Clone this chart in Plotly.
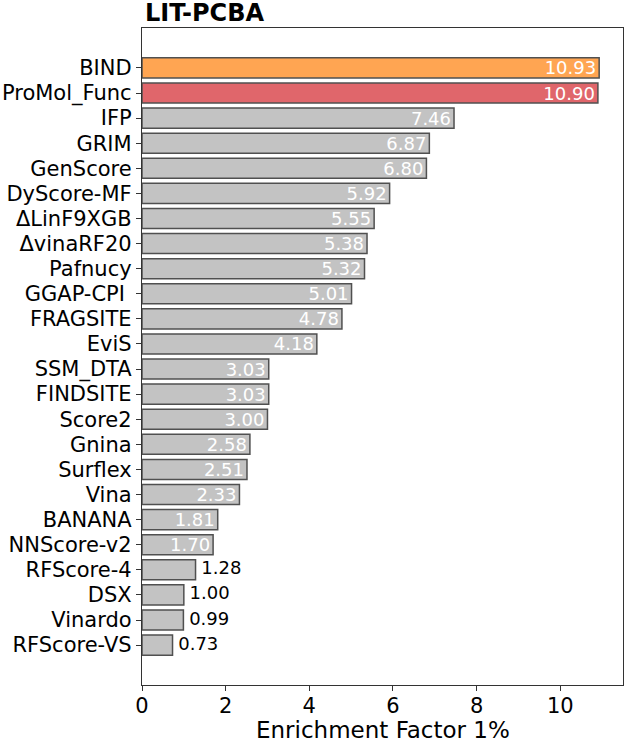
import plotly.graph_objects as go

methods = ["BIND", "ProMol_Func", "IFP", "GRIM", "GenScore", "DyScore-MF", "ΔLinF9XGB",
           "ΔvinaRF20", "Pafnucy", "GGAP-CPI ", "FRAGSITE", "EviS", "SSM_DTA", "FINDSITE",
           "Score2", "Gnina", "Surflex", "Vina", "BANANA", "NNScore-v2", "RFScore-4", "DSX",
           "Vinardo", "RFScore-VS"]
values = [10.93, 10.90, 7.46, 6.87, 6.80, 5.92, 5.55, 5.38, 5.32, 5.01, 4.78, 4.18, 3.03,
          3.03, 3.00, 2.58, 2.51, 2.33, 1.81, 1.70, 1.28, 1.00, 0.99, 0.73]
labels = [f"{v:.2f}" for v in values]

colors = []
for m in methods:
    if m == "BIND":
        colors.append("#FFA552")
    elif m == "ProMol_Func":
        colors.append("#E0666B")
    else:
        colors.append("#C3C3C3")

n = len(methods)
ypos = list(range(n))
inside = [v >= 1.5 for v in values]
in_text = [t if f else "" for t, f in zip(labels, inside)]

fig = go.Figure(go.Bar(
    x=values, y=ypos, orientation="h",
    marker=dict(color=colors, line=dict(color="#505050", width=1.5)),
    width=0.8,
    text=in_text, textposition="inside", insidetextanchor="end",
    insidetextfont=dict(family="DejaVu Sans", size=18, color="white"),
    constraintext="none", cliponaxis=False,
))

out_x = [v for v, f in zip(values, inside) if not f]
out_y = [y for y, f in zip(ypos, inside) if not f]
out_t = [" " + t for t, f in zip(labels, inside) if not f]
fig.add_trace(go.Scatter(
    x=out_x, y=out_y, mode="text", text=out_t, textposition="middle right",
    textfont=dict(family="DejaVu Sans", size=18, color="black"),
    cliponaxis=False, hoverinfo="skip",
))

fig.add_annotation(text="Enrichment Factor 1%", xref="paper", yref="paper",
                   x=0.5, y=(685 - 730) / 657, xanchor="center", yanchor="middle",
                   showarrow=False, font=dict(size=23, family="DejaVu Sans", color="black"))

fig.update_layout(
    width=635, height=743,
    margin=dict(l=142, r=12, t=28, b=58),
    paper_bgcolor="white", plot_bgcolor="white",
    font=dict(family="DejaVu Sans", color="black"),
    title=dict(text="<b>LIT-PCBA</b>", x=145/635, xanchor="left", y=1 - 13/743, yanchor="middle",
               font=dict(size=24, family="DejaVu Sans")),
    showlegend=False,
    xaxis=dict(range=[0, 11.5], tickvals=[0, 2, 4, 6, 8, 10], ticks="outside", ticklen=5,
               tickcolor="#333", showline=True, linecolor="#333", linewidth=1.3, mirror=True,
               showgrid=False, zeroline=False, tickfont=dict(size=21), automargin=False,
               ticklabelstandoff=-3),
    yaxis=dict(range=[n - 1 + 1.59, -1.59], ticks="outside", ticklen=5, tickcolor="#333",
               showline=True, linecolor="#333", linewidth=1.3, mirror=True, showgrid=False,
               zeroline=False, tickmode="array", tickvals=ypos, ticktext=methods,
               tickfont=dict(size=21), automargin=False),
)

fig.write_html("out.html")
